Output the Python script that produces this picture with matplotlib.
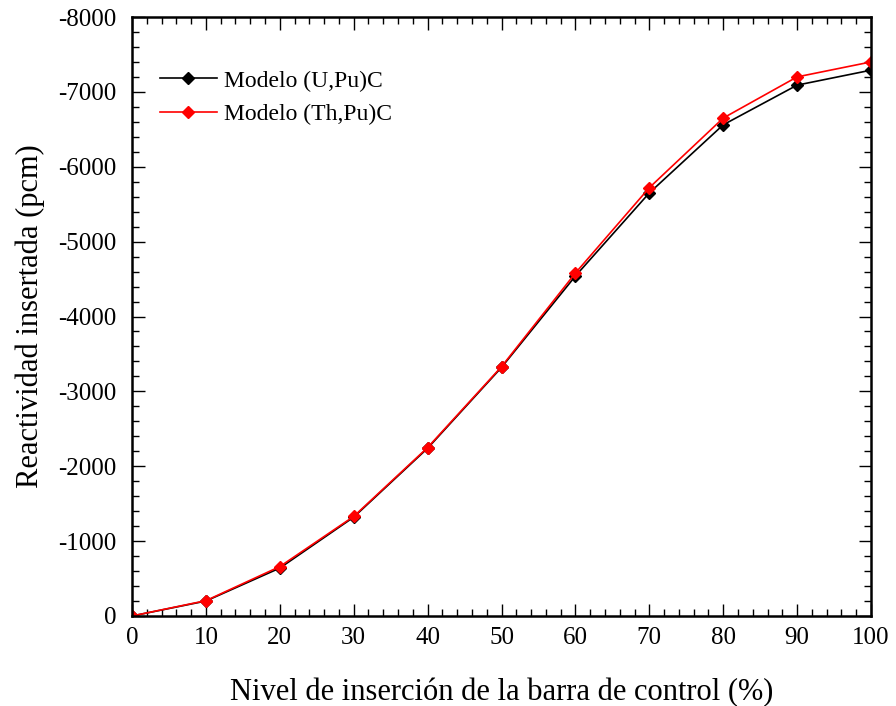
import matplotlib
matplotlib.use('Agg')
import matplotlib.pyplot as plt
from matplotlib.ticker import MultipleLocator

plt.rcParams['font.family'] = ['Liberation Serif', 'DejaVu Serif']
plt.rcParams['axes.unicode_minus'] = False

nivel = [0, 10, 20, 30, 40, 50, 60, 70, 80, 90, 100]
reac_upu = [0, -200, -640, -1320, -2240, -3320, -4540, -5650, -6560, -7090, -7290]
reac_thpu = [0, -205, -660, -1330, -2250, -3330, -4580, -5720, -6650, -7200, -7400]

fig = plt.figure(figsize=(8.96, 7.06), dpi=100)
ax = fig.add_axes([132/896, 90/706, 739/896, 599/706])

ax.plot(nivel, reac_upu, color='black', marker='D', markersize=6, lw=1.2,
        label='Modelo (U,Pu)C')
ax.plot(nivel, reac_thpu, color='red', marker='D', markersize=6, lw=1.2,
        label='Modelo (Th,Pu)C')

ax.set_xlim(0, 100)
ax.set_ylim(0, -8000)
ax.xaxis.set_major_locator(MultipleLocator(10))
ax.xaxis.set_minor_locator(MultipleLocator(2))
ax.yaxis.set_major_locator(MultipleLocator(1000))
ax.yaxis.set_minor_locator(MultipleLocator(200))
ax.tick_params(which='both', direction='in', top=True, right=True, labelsize=18, width=1.0)
ax.tick_params(which='major', length=9)
ax.tick_params(which='minor', length=5)
ax.tick_params(axis='x', which='major', pad=8)
ax.tick_params(axis='y', which='major', pad=11)
for s in ax.spines.values():
    s.set_linewidth(1.8)

ax.set_xlabel('Nivel de inserción de la barra de control (%)', fontsize=22, labelpad=21)
ax.set_ylabel('Reactividad insertada (pcm)', fontsize=22, labelpad=10)

ax.legend(loc='upper left', bbox_to_anchor=(0.025, 0.927), frameon=False, fontsize=17,
          handlelength=2.4, handletextpad=0.3, labelspacing=0.5, borderaxespad=0)

fig.savefig('out.png', dpi=100, facecolor='white')
